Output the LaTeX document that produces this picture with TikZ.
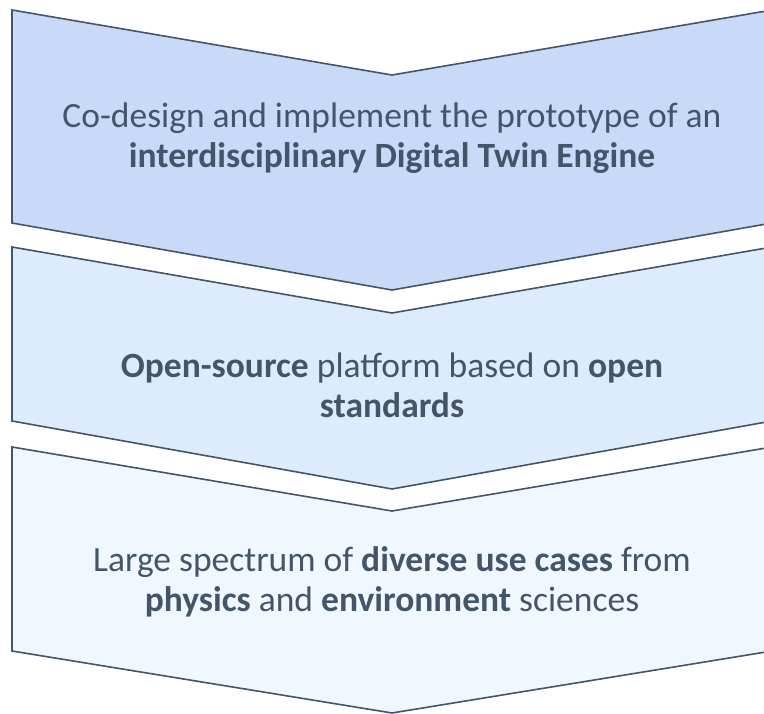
\documentclass[tikz,border=0pt]{standalone}
\usepackage{fontspec}
\setmainfont{Carlito}
\definecolor{edge}{RGB}{68,84,106}
\definecolor{fillA}{RGB}{201,218,248}
\definecolor{fillB}{RGB}{221,236,253}
\definecolor{fillC}{RGB}{240,247,255}
\tikzset{
  chev/.style={draw=edge, line width=1.6pt, line join=miter},
  lbl/.style={text=edge, align=center, font=\fontsize{35.5}{40}\selectfont, inner sep=0pt}
}
\begin{document}
\begin{tikzpicture}[x=1pt,y=-1pt]
\useasboundingbox (0,0) rectangle (764,714);
\begin{scope}
\clip (0,0) rectangle (764,714);
\path[chev, fill=fillA] (12,10) -- (392,75) -- (772,10) -- (772,223) -- (392,290) -- (12,223) -- cycle;
\path[chev, fill=fillB] (12,247) -- (392,313) -- (772,247) -- (772,421) -- (392,489) -- (12,421) -- cycle;
\path[chev, fill=fillC] (12,447) -- (392,511) -- (772,447) -- (772,651) -- (392,713) -- (12,651) -- cycle;
\end{scope}
\node[lbl] (t1) at (392,138) {Co-design and implement the prototype of an\\\textbf{interdisciplinary Digital Twin Engine}};
\node[lbl] (t2) at (392,385) {\textbf{Open-source} platform based on \textbf{open}\\\textbf{standards}};
\node[lbl] (t3) at (392,582) {Large spectrum of \textbf{diverse use cases} from\\\textbf{physics} and \textbf{environment} sciences};
\end{tikzpicture}
\end{document}
